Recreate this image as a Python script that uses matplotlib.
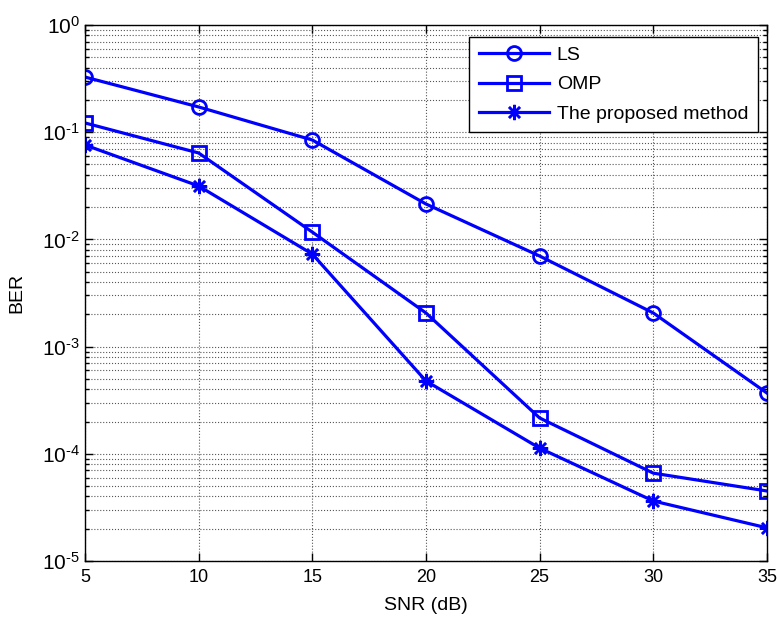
import numpy as np
import matplotlib
matplotlib.use('Agg')
import matplotlib.pyplot as plt
from matplotlib.ticker import LogLocator, NullFormatter, FixedLocator, FixedFormatter

plt.rcParams['font.family'] = ['Liberation Sans', 'DejaVu Sans']
plt.rcParams['axes.unicode_minus'] = False
plt.rcParams['mathtext.fontset'] = 'custom'
plt.rcParams['mathtext.rm'] = 'Liberation Sans'
plt.rcParams['mathtext.it'] = 'Liberation Sans'

snr = [5, 10, 15, 20, 25, 30, 35]
ber_ls = [0.327, 0.172, 0.0846, 0.0214, 0.0070, 0.00206, 3.69e-4]
ber_omp = [0.122, 0.064, 0.0117, 0.00206, 2.16e-4, 6.6e-5, 4.5e-5]
ber_prop = [0.076, 0.0315, 0.0073, 4.78e-4, 1.13e-4, 3.63e-5, 2.04e-5]
ytick_exp = [-5, -4, -3, -2, -1, 0]

fig = plt.figure(figsize=(7.77, 6.19), dpi=100)
ax = fig.add_axes([0.1094, 0.0937, 0.8776, 0.8659])

blue = '#0000ff'
ax.semilogy(snr, ber_ls, '-o', color=blue, lw=2.3, ms=10, mfc='none', mew=2, label='LS')
ax.semilogy(snr, ber_omp, '-s', color=blue, lw=2.3, ms=10, mfc='none', mew=2, label='OMP')
ax.semilogy(snr, ber_prop, '-', marker=(8, 2, 0), color=blue, lw=2.3, ms=11, mew=1.8,
            label='The proposed method')

ax.set_xlim(5, 35)
ax.set_ylim(1e-5, 1)
ax.set_xticks(snr)
ax.yaxis.set_major_locator(FixedLocator([10.0 ** e for e in ytick_exp]))
ax.yaxis.set_major_formatter(FixedFormatter(['$10^{\\text{%d}}$' % e for e in ytick_exp]))
ax.yaxis.set_minor_locator(LogLocator(base=10, subs=np.arange(2, 10), numticks=10))
ax.yaxis.set_minor_formatter(NullFormatter())

ax.grid(True, which='major', color='#555555', ls=':', lw=0.8)
ax.grid(True, which='minor', axis='y', color='#555555', ls=':', lw=0.8)
ax.tick_params(which='both', direction='in', top=True, right=True, labelsize=13, width=1)
ax.tick_params(axis='x', pad=6)
ax.tick_params(axis='y', labelsize=15)
ax.tick_params(which='major', length=6)
ax.tick_params(which='minor', length=3)
for s in ax.spines.values():
    s.set_linewidth(1)

ax.set_xlabel('SNR (dB)', fontsize=14, labelpad=8)
ax.set_ylabel('BER', fontsize=14, labelpad=12)

leg = ax.legend(loc='upper right', fontsize=14, handlelength=3.6, fancybox=False,
                framealpha=1, edgecolor='black', borderpad=0.5, labelspacing=0.6,
                handletextpad=0.4, borderaxespad=0, bbox_to_anchor=(0.987, 0.978))
leg.get_frame().set_linewidth(1)

fig.savefig('out.png', dpi=100)
